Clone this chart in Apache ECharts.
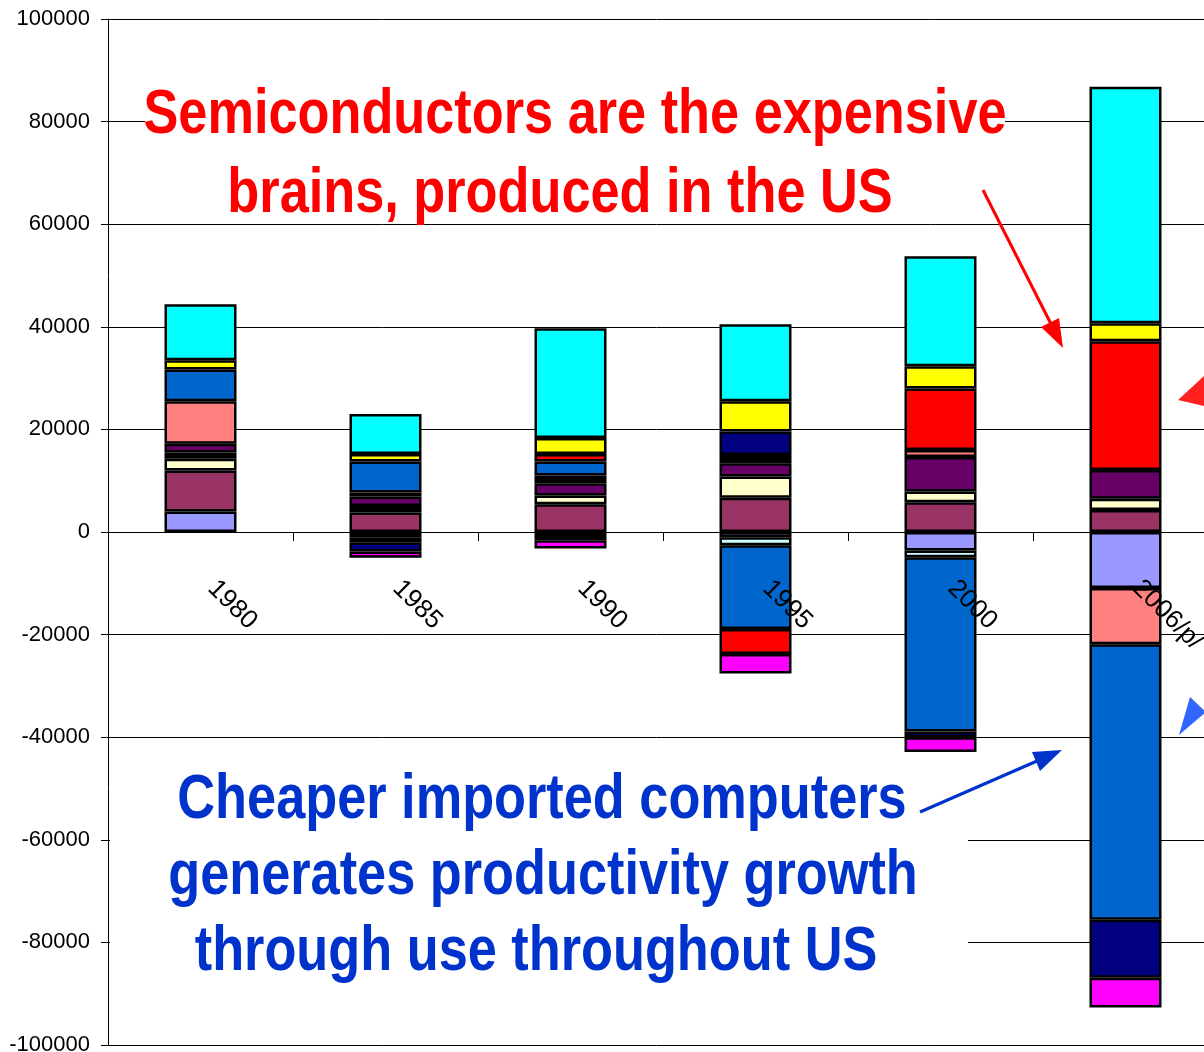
<!DOCTYPE html>
<html>
<head>
<meta charset="utf-8">
<script src="https://cdn.jsdelivr.net/npm/echarts@6/dist/echarts.min.js"></script>
<style>
html,body{margin:0;padding:0;background:#fff;}
#chart{width:1204px;height:1052px;}
</style>
</head>
<body>
<div id="chart"></div>
<script>
// ---- data ----
var categories = ['1980', '1985', '1990', '1995', '2000', '2006/p/'];
var yTicks = { min: -100000, max: 100000, interval: 20000 };

// series listed bottom-to-top in stacking order
var sLavender  = [4000, 0, 0, -1000, -3600, -10900];
var sBlack0    = [0, -1000, -1600, 0, 0, 0];
var sPlum      = [8000, 3800, 5400, 6700, 5800, 4300];
var sIvory     = [2300, 0, 1700, 4100, 2100, 2200];
var sIce       = [0, 0, 0, -1600, -1300, 0];
var sBlack1    = [1200, 1250, 0, 0, 0, 0];
var sPurple    = [1700, 1850, 2400, 2600, 6700, 5600];
var sSalmon    = [8300, 0, 0, 0, 1400, -11000];
var sBlack2    = [0, 800, 1500, 1600, 0, 0];
var sBlue      = [6200, 6050, 2750, -16300, -34000, -53700];
var sRed       = [0, -1000, 1450, -4900, 11950, 25100];
var sNavy      = [0, -1800, 0, 4600, -1100, -11300];
var sMagenta   = [0, -1200, -1600, -3800, -2900, -5800];
var sYellow    = [1800, 1450, 3100, 5900, 4350, 3500];
var sCyan      = [10900, 7800, 21400, 15000, 21450, 46100];

var seriesDefs = [
  ['s1', sLavender, '#9999FF'],
  ['k0', sBlack0, '#000000'],
  ['s2', sPlum, '#993366'],
  ['s3', sIvory, '#FFFFCC'],
  ['s4', sIce, '#CCFFFF'],
  ['k1', sBlack1, '#000000'],
  ['s5', sPurple, '#660066'],
  ['s6', sSalmon, '#FF8080'],
  ['k2', sBlack2, '#000000'],
  ['s7', sBlue, '#0066CC'],
  ['s8', sRed, '#FF0000'],
  ['s9', sNavy, '#000080'],
  ['s10', sMagenta, '#FF00FF'],
  ['s11', sYellow, '#FFFF00'],
  ['s12', sCyan, '#00FFFF']
];

var redLines = ['Semiconductors are the expensive', 'brains, produced in the US'];
var blueLines = ['Cheaper imported computers', 'generates productivity growth', 'through use throughout US'];

var chart = echarts.init(document.getElementById('chart'), null, {renderer: 'canvas'});

var series = seriesDefs.map(function (d) {
  return {
    name: d[0],
    type: 'bar',
    stack: 'total',
    barWidth: 72,
    data: d[1].map(function (v) { return v === 0 ? null : v; }),
    itemStyle: { color: d[2], borderColor: '#000', borderWidth: 2.5 },
    emphasis: { disabled: true },
    animation: false
  };
});

var sans = "'Liberation Sans', Arial, sans-serif";
function txt(x, y, s, color) {
  return {
    type: 'text', x: x, y: y, z: 20, scaleX: 0.83,
    style: { x: 0, y: 0, text: s, fill: color, font: 'bold 63px ' + sans, textAlign: 'center', textVerticalAlign: 'middle' }
  };
}

var graphics = [
  { type: 'rect', z: 5, shape: { x: 145, y: 88, width: 860, height: 128 }, style: { fill: '#fff' } },
  { type: 'rect', z: 5, shape: { x: 110, y: 762, width: 858, height: 228 }, style: { fill: '#fff' } },
  txt(575, 116, redLines[0], '#FF0000'),
  txt(560, 195, redLines[1], '#FF0000'),
  txt(542, 801, blueLines[0], '#0033CC'),
  txt(543, 877, blueLines[1], '#0033CC'),
  txt(536, 953, blueLines[2], '#0033CC'),
  // red arrow
  { type: 'line', z: 20, shape: { x1: 983, y1: 190, x2: 1051, y2: 324 }, style: { stroke: '#FF0000', lineWidth: 3 } },
  { type: 'polygon', z: 20, shape: { points: [[1063, 348], [1041, 327], [1059, 318]] }, style: { fill: '#FF0000' } },
  // blue arrow
  { type: 'line', z: 20, shape: { x1: 920, y1: 812, x2: 1037, y2: 761 }, style: { stroke: '#0033CC', lineWidth: 3 } },
  { type: 'polygon', z: 20, shape: { points: [[1062, 750], [1040, 771], [1032, 752]] }, style: { fill: '#0033CC' } },
  // partial arrowheads at right edge
  { type: 'polygon', z: 20, shape: { points: [[1178, 400], [1204, 376], [1204, 406]] }, style: { fill: '#FF2020' } },
  { type: 'polygon', z: 20, shape: { points: [[1179, 735], [1190, 697], [1206, 712]] }, style: { fill: '#3366FF' } }
];

chart.setOption({
  backgroundColor: '#fff',
  animation: false,
  grid: { left: 108, top: 19, width: 1110, bottom: 7, containLabel: false, outerBoundsMode: 'none' },
  xAxis: {
    type: 'category',
    data: categories,
    z: 6,
    offset: -513,
    axisLine: { onZero: false, lineStyle: { color: '#000', width: 1 } },
    axisTick: { show: true, length: 9, interval: 0, lineStyle: { color: '#000' } },
    axisLabel: {
      rotate: -45, margin: 41, interval: 0, padding: [0, 0, 0, 16],
      fontSize: 26, fontFamily: sans, color: '#000'
    },
    splitLine: { show: false }
  },
  yAxis: {
    type: 'value',
    min: yTicks.min, max: yTicks.max, interval: yTicks.interval,
    axisLine: { show: true, lineStyle: { color: '#000', width: 1 } },
    axisTick: { show: true, length: 7, lineStyle: { color: '#000' } },
    axisLabel: { margin: 18, fontSize: 22, fontFamily: sans, color: '#000',
      formatter: function (v) { return String(v); } },
    splitLine: { show: true, lineStyle: { color: '#000', width: 1 } }
  },
  series: series,
  graphic: graphics
});
</script>
</body>
</html>
